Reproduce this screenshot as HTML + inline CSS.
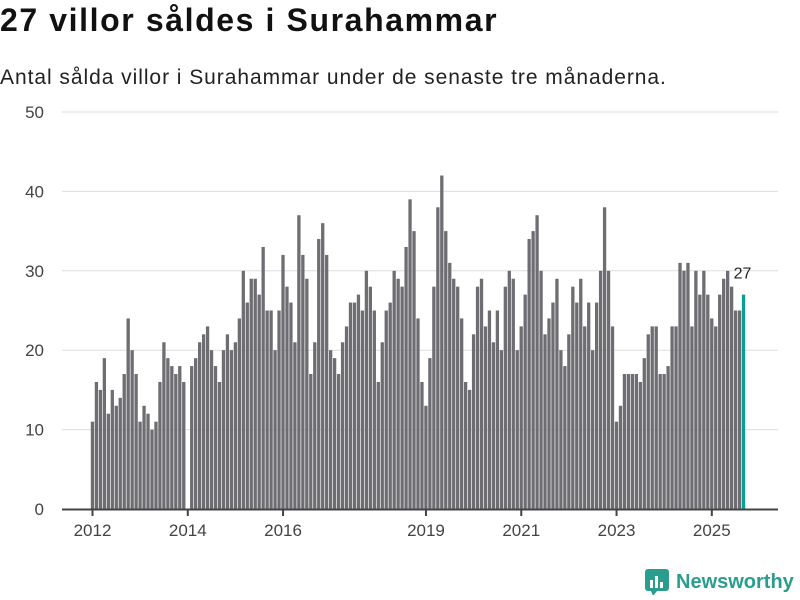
<!DOCTYPE html>
<html><head><meta charset="utf-8"><style>
body{margin:0;background:#fff;font-family:"Liberation Sans","DejaVu Sans",sans-serif;}
#wrap{position:relative;width:800px;height:600px;overflow:hidden}
h1{position:absolute;left:0;top:2px;margin:0;font-size:32px;font-weight:bold;color:#111;letter-spacing:1.6px}
p.sub{position:absolute;left:0;top:66px;margin:0;font-size:21px;color:#222;letter-spacing:0.95px}
#logo{position:absolute;left:645px;top:569px;display:flex;align-items:center;gap:7px;color:#2a9d8f;font-weight:bold;font-size:20px}
</style></head><body><div id="wrap">
<h1>27 villor såldes i Surahammar</h1>
<p class="sub">Antal sålda villor i Surahammar under de senaste tre månaderna.</p>
<svg id="chart" width="800" height="600" style="position:absolute;left:0;top:0"></svg>
<div id="logo"><svg width="24" height="26"><rect x="0" y="0" width="24" height="22" rx="3" fill="#2a9d8f"/><polygon points="6,22 12,22 8,27" fill="#2a9d8f"/><rect x="5" y="11" width="3" height="8" fill="#fff"/><rect x="10" y="7" width="3" height="12" fill="#fff"/><rect x="15" y="13" width="3" height="6" fill="#fff"/></svg><span>Newsworthy</span></div>
</div>
<script>
const values=[11,16,15,19,12,15,13,14,17,24,20,17,11,13,12,10,11,16,21,19,18,17,18,16,
null,
18,19,21,22,23,20,18,16,20,22,20,21,24,30,26,29,29,27,33,25,25,20,25,32,28,26,21,37,32,29,
17,21,34,36,32,20,19,17,21,23,26,26,27,25,30,28,25,16,21,25,26,30,29,28,33,39,35,24,16,13,
19,28,38,42,35,31,29,28,24,16,15,22,28,29,23,25,21,25,20,28,30,29,20,23,27,34,35,37,30,22,
24,26,29,20,18,22,28,26,29,23,26,20,26,30,38,30,23,11,13,17,17,17,17,16,19,22,23,23,17,17,
18,23,23,31,30,31,23,30,27,30,27,24,23,27,29,30,28,25,25,27];
const yTicks=[0,10,20,30,40,50];
const xTickLabels=["2012","2014","2016","2019","2021","2023","2025"];
const xTickYears=[2012,2014,2016,2019,2021,2023,2025];
const svg=document.getElementById('chart');const NS='http://www.w3.org/2000/svg';
const y=v=>509-v*7.94;
const x=i=>92.5+i*3.97;
const xYear=yr=>x((yr-2012)*12);
function mk(t,a){const e=document.createElementNS(NS,t);for(const k in a)e.setAttribute(k,a[k]);svg.appendChild(e);return e;}
yTicks.forEach(t=>{
 if(t>0){const g=mk('line',{x1:62,x2:778,y1:y(t),y2:y(t),stroke:'#ddd','stroke-width':1});
 
 }
 const l=mk('text',{x:44,y:y(t)+6,'text-anchor':'end','font-size':17,fill:'#444'});l.textContent=t;
 
 
});
values.forEach((v,i)=>{
 if(v==null)return;
 const last=i===values.length-1;
 const r=mk('rect',{x:x(i)-1.7,y:y(v),width:3.3,height:509-y(v),fill:last?'#0a9e94':'#6e6d72'});
 
 
});
const li=values.length-1;
const lb=mk('text',{x:x(li)+1,y:y(values[li])-16,'text-anchor':'start','font-size':16,fill:'#222'});lb.textContent=values[li];


lb.setAttribute('x',x(li)-10);
const ax=mk('line',{x1:62,x2:778,y1:509.5,y2:509.5,stroke:'#444','stroke-width':2});


xTickYears.forEach((yr,k)=>{
 const tk=mk('line',{x1:xYear(yr),x2:xYear(yr),y1:509,y2:516,stroke:'#444','stroke-width':2});
 
 
 const t=mk('text',{x:xYear(yr),y:536,'text-anchor':'middle','font-size':17,fill:'#444'});t.textContent=xTickLabels[k];
 
 
});
</script></body></html>
